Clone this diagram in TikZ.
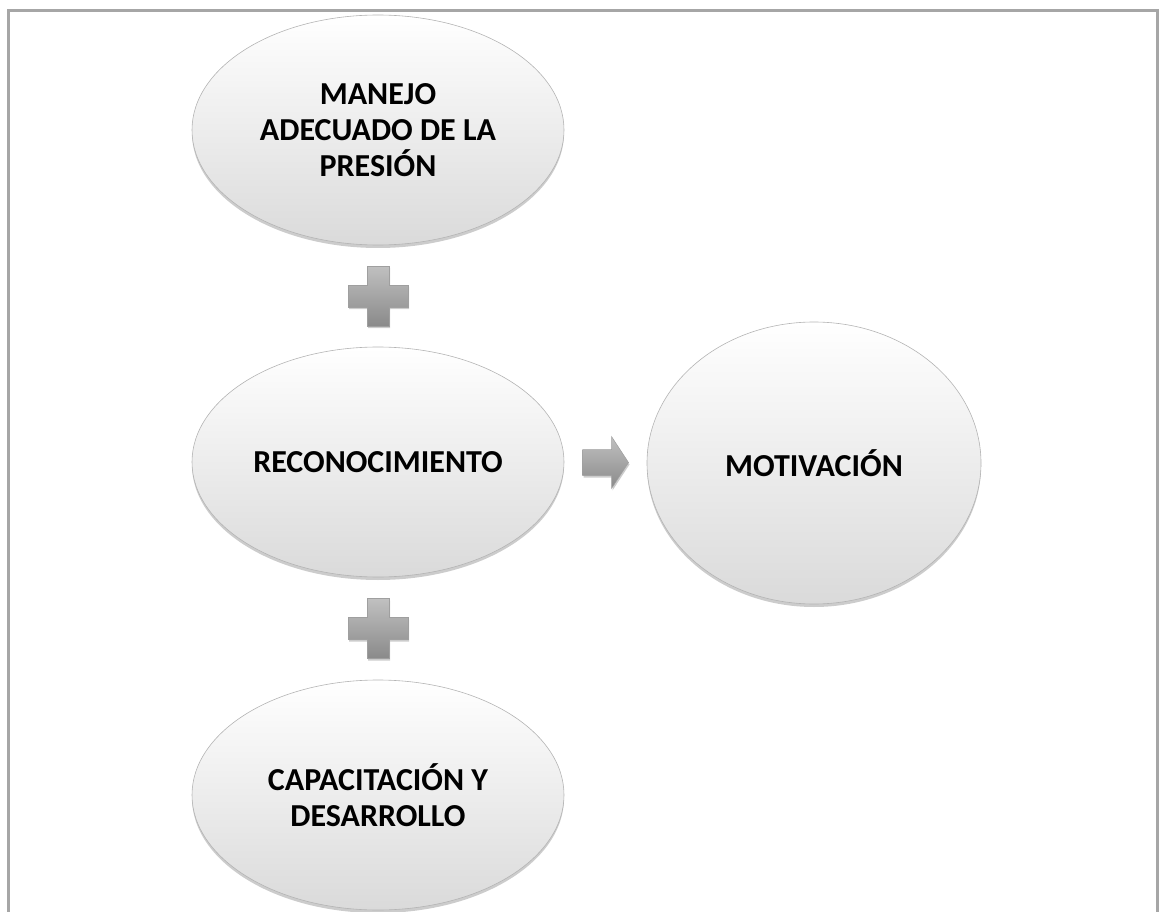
\documentclass[tikz,border=0pt]{standalone}
\usepackage{fontspec}
\setmainfont{Carlito}
\usepackage{xcolor}
\usetikzlibrary{shapes.geometric,shadows,calc}

\definecolor{framegray}{HTML}{A6A6A6}
\definecolor{ovalline}{HTML}{B4B4B4}
\definecolor{ovalmid}{HTML}{F8F8F8}
\definecolor{ovalbottom}{HTML}{DADADA}
\definecolor{symtop}{HTML}{C0C0C0}
\definecolor{symbottom}{HTML}{8A8A8A}

\tikzset{
  oval/.style={ellipse, draw=ovalline, line width=0.6pt, top color=white, middle color=ovalmid,
    bottom color=ovalbottom, minimum width=372pt, minimum height=230pt, align=center, inner sep=0pt,
    font=\fontsize{32}{36}\selectfont\bfseries,
    drop shadow={shadow xshift=0pt, shadow yshift=-3pt, opacity=0.4, fill=gray}},
  symb/.style={draw=gray!75, line width=0.5pt, top color=symtop, bottom color=symbottom,
    drop shadow={shadow xshift=1pt, shadow yshift=-2pt, opacity=0.2, fill=black}}
}

\begin{document}
\begin{tikzpicture}[x=1pt,y=-1pt]
    \useasboundingbox (0,0) rectangle (1162,912);
    % Frame
    \draw[framegray, line width=3pt] (8,912) -- (8,11) -- (1157,11) -- (1157,912);
    % Ovals
    \node[oval] (manejo) at (378,130) {MANEJO\\ADECUADO DE LA\\PRESIÓN};
    \node[oval] (reconoc) at (378,462) {RECONOCIMIENTO};
    \node[oval] (capacit) at (378,795) {CAPACITACIÓN Y\\DESARROLLO};
    \node[oval, minimum width=334pt, minimum height=282pt] (motiv) at (814,463) {MOTIVACIÓN};
    % Plus signs
    \coordinate (plusA) at ($(manejo)!0.5!(reconoc)$);
    \coordinate (plusB) at ($(reconoc)!0.5!(capacit)$);
    \foreach \c in {plusA,plusB}
        \draw[symb, shift={(\c)}] (-11,-30) -- (11,-30) -- (11,-11) -- (30,-11) -- (30,11)
            -- (11,11) -- (11,30) -- (-11,30) -- (-11,11) -- (-30,11) -- (-30,-11) -- (-11,-11) -- cycle;
    % Arrow
    \coordinate (arr) at ($(reconoc.east)!0.5!(motiv.west)$);
    \draw[symb, shift={(arr)}] (-23,-13) -- (6,-13) -- (6,-26) -- (23,0) -- (6,26) -- (6,13) -- (-23,13) -- cycle;
\end{tikzpicture}
\end{document}
